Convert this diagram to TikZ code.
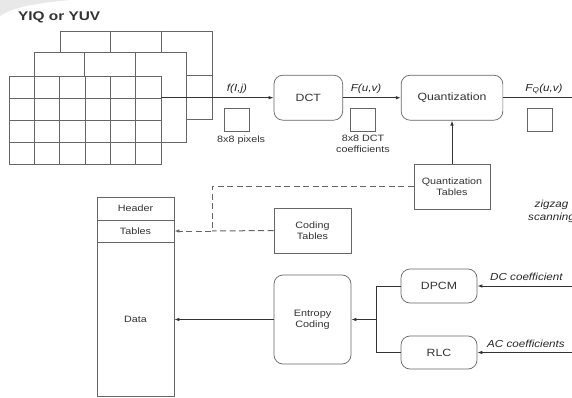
\documentclass[tikz,border=0pt]{standalone}
\usepackage{fontspec}
\setmainfont{Liberation Sans}[FakeStretch=1.17]
\newfontfamily\sigfont{Liberation Sans}[FakeStretch=1.14]
\newfontfamily\titlefont{Liberation Sans}[FakeStretch=1.22]
\usetikzlibrary{arrows.meta}
\definecolor{ink}{HTML}{333333}
\definecolor{boxline}{HTML}{666666}
\begin{document}
\begin{tikzpicture}[x=1pt,y=-1pt,
  every node/.style={inner sep=0pt, text=ink},
  roundbox/.style={draw=boxline, line width=0.7pt, rounded corners=9pt, fill=white, font=\fontsize{10.5}{12}\selectfont},
  plainbox/.style={draw=boxline, line width=0.7pt, fill=white, align=center, font=\fontsize{9.2}{11}\selectfont},
  filebox/.style={draw=boxline, line width=0.7pt, minimum width=77pt, font=\fontsize{9.2}{11}\selectfont},
  blocksq/.style={draw=boxline, line width=0.7pt, minimum width=25pt, minimum height=23pt},
  small/.style={font=\fontsize{9.2}{10.5}\selectfont, align=center},
  sig/.style={text=black!85, font=\sigfont\itshape\fontsize{10.2}{13}\selectfont},
  flow/.style={draw=ink, line width=0.9pt, -{Latex[length=5pt,width=3.6pt]}},
  link/.style={draw=ink, line width=0.9pt},
  dashflow/.style={draw=boxline, line width=1pt, dash pattern=on 6pt off 3.5pt, -{Latex[length=5pt,width=3.6pt]}},
  gridline/.style={draw=boxline, line width=0.7pt}
]
\useasboundingbox (0,0) rectangle (572,398);
\begin{scope}
\clip (0,0) rectangle (572,398);

% faint ornament in the corner
\fill[gray!18] (0,0) -- (70,0) .. controls (40,3) and (15,6) .. (0,16) -- cycle;

% colour planes: two chroma planes behind the luma plane
\filldraw[gridline, fill=white] (60,31) rectangle (212,119);
\foreach \x in {110.7,161.3} \draw[gridline] (\x,31) -- (\x,119);
\draw[gridline] (60,75) -- (212,75);

\filldraw[gridline, fill=white] (34,52) rectangle (186,142);
\foreach \x in {84.7,135.3} \draw[gridline] (\x,52) -- (\x,142);
\draw[gridline] (34,97) -- (186,97);

\filldraw[gridline, fill=white] (9,76) rectangle (161,164);
\foreach \i in {1,...,5} \draw[gridline] (9+25.333*\i,76) -- (9+25.333*\i,164);
\foreach \j in {1,2,3} \draw[gridline] (9,76+22*\j) -- (161,76+22*\j);

\node[font=\titlefont\bfseries\fontsize{12.6}{14}\selectfont, anchor=base west] (title) at (18,20.3) {YIQ or YUV};

% encoder pipeline
\coordinate (gridout) at (161,97.7);
\node[roundbox, minimum width=68.7pt, minimum height=45pt] (dct) at (308.3,97.7) {DCT};
\node[roundbox, minimum width=101.7pt, minimum height=45pt] (quant) at (452,97.7) {Quantization};
\coordinate (fqout) at (575,97.7);

\draw[flow] (gridout) -- (dct.west);
\draw[flow] (dct.east) -- (quant.west);
\draw[link] (quant.east) -- (fqout);

\node[sig] (fij) at (237,89) {f(I,j)};
\node[sig] (fuv) at (366,89) {F(u,v)};
\node[sig] (fq) at (544,89) {F\textsubscript{Q}(u,v)};

\node[blocksq] (sqa) at (236.5,119.5) {};
\node[blocksq] (sqb) at (363,119.5) {};
\node[blocksq] (sqc) at (540,119.5) {};
\node[small, anchor=west] (pixlbl) at (217,140) {8x8 pixels};
\node[small, anchor=north] (dctlbl) at (363,135) {8x8 DCT\\coefficients};

% tables
\node[plainbox, minimum width=76pt, minimum height=45pt] (qtab) at (452,186.5) {Quantization\\Tables};
\node[plainbox, minimum width=77pt, minimum height=45pt] (ctab) at (312.5,230.5) {Coding\\Tables};
\draw[flow] (qtab.north) -- (quant.south);

% output file layout
\node[filebox, minimum height=23pt] (hdr) at (135.5,208.5) {Header};
\node[filebox, minimum height=22pt] (tbl) at (135.5,231) {Tables};
\node[filebox, minimum height=154pt] (dat) at (135.5,319) {Data};

\coordinate (dtop) at (212,186.5);
\coordinate (djoin) at (212,231);
\draw[dashflow] (qtab.west) -- (dtop) -- (djoin) -- (tbl.east);
\draw[dashflow, -] (ctab.west) -- (djoin);

% entropy coding stage
\node[roundbox, align=center, font=\fontsize{9.3}{11}\selectfont, minimum width=77pt, minimum height=89pt] (ent) at (312.5,319.5) {Entropy\\Coding};
\node[roundbox, minimum width=76pt, minimum height=34pt] (dpcm) at (439,286) {DPCM};
\node[roundbox, minimum width=76pt, minimum height=33pt] (rlc) at (439,352.5) {RLC};

\coordinate (jtop) at (376,286);
\coordinate (jbot) at (376,352.5);
\coordinate (jmid) at (376,319.5);
\draw[link] (dpcm.west) -- (jtop) -- (jbot) -- (rlc.west);
\draw[flow] (jmid) -- (ent.east);
\draw[flow] (ent.west) -- (dat.east |- ent.west);

\coordinate (dcin) at (575,286);
\coordinate (acin) at (575,352.5);
\draw[flow] (dcin) -- (dpcm.east);
\draw[flow] (acin) -- (rlc.east);
\node[sig, anchor=base west] (dclbl) at (490,280.7) {DC coefficient};
\node[sig, anchor=base west] (aclbl) at (487,347) {AC coefficients};

\node[sig, align=center] (zz) at (551.5,211) {zigzag\\scanning};
\end{scope}
\end{tikzpicture}
\end{document}
